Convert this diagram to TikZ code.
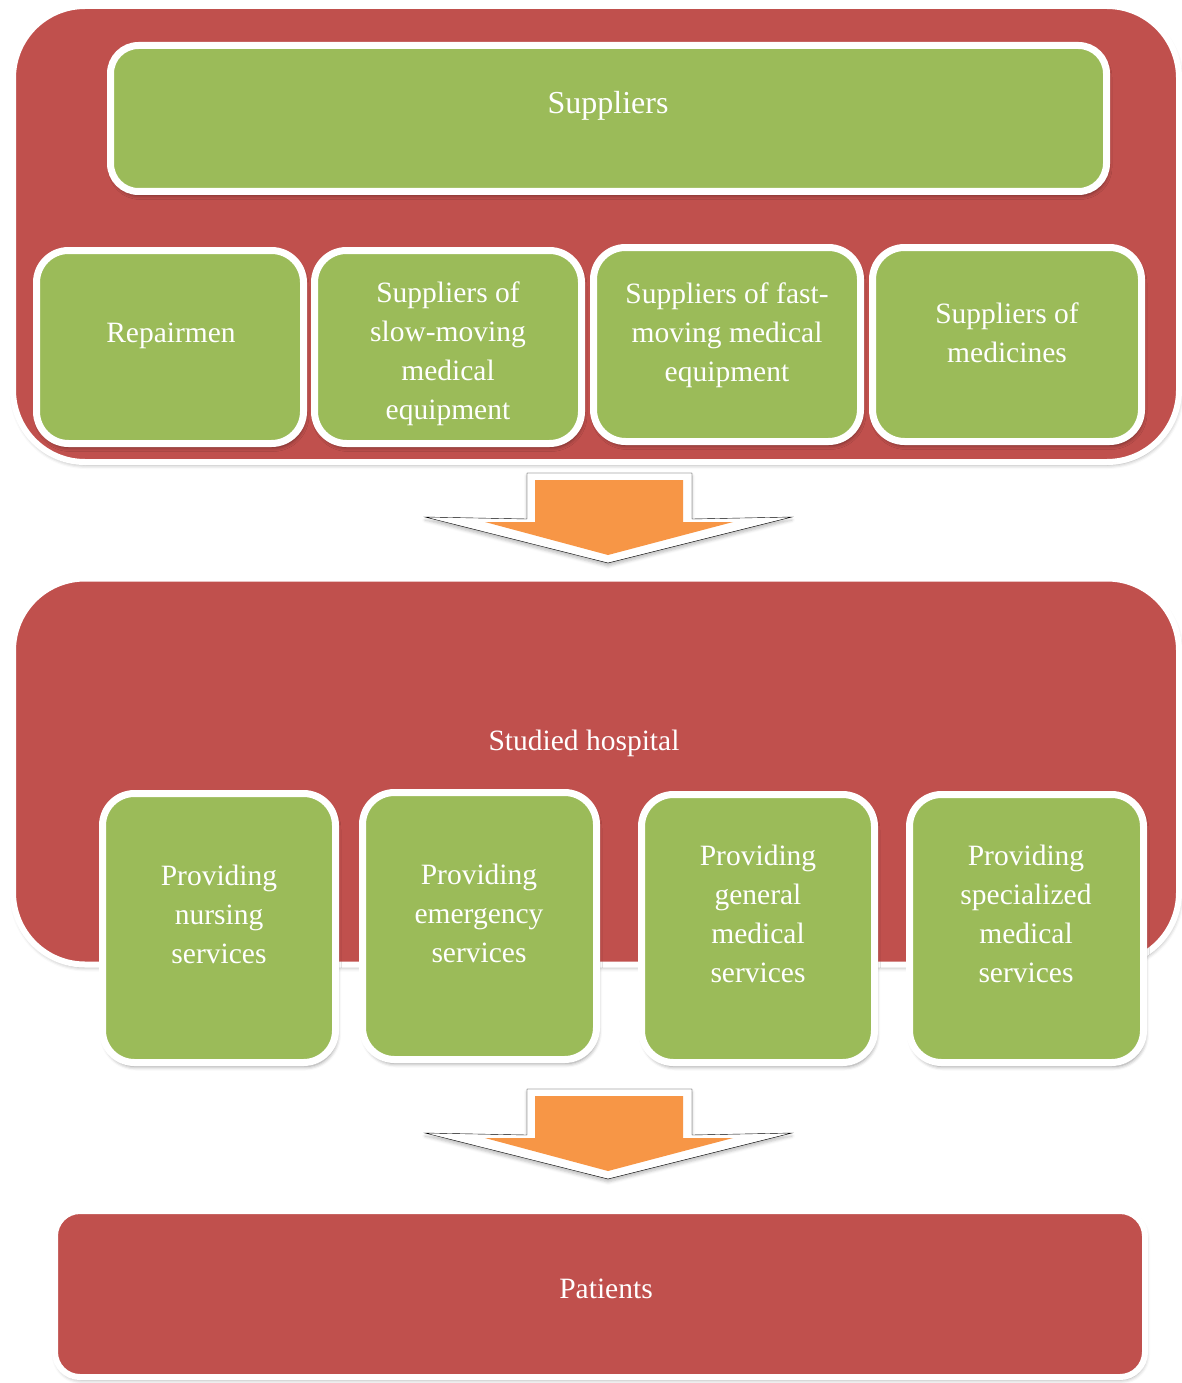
\documentclass[tikz,border=0pt]{standalone}
\usepackage{fontspec}
\setmainfont{Liberation Serif}
\usepackage{xcolor}
\usepackage{tikz}
\usetikzlibrary{positioning, shadows.blur}
\definecolor{hospred}{HTML}{C0504D}
\definecolor{leafgreen}{HTML}{9BBB59}
\definecolor{floworange}{HTML}{F79646}

\tikzset{
  redpanel/.style={draw=white, line width=6pt, fill=hospred,
    inner sep=0pt, outer sep=0pt,
    blur shadow={shadow xshift=1pt, shadow yshift=-3pt,
      shadow blur radius=4pt, shadow opacity=35}},
  greenbox/.style={draw=white, line width=7pt, fill=leafgreen,
    rounded corners=32pt, inner sep=0pt, outer sep=0pt,
    blur shadow={shadow xshift=1.5pt, shadow yshift=-4pt,
      shadow blur radius=4pt, shadow opacity=45}},
  boxtext/.style={text=white, align=center, inner sep=0pt,
    font=\fontsize{29.5}{39}\selectfont},
  arrowrim/.style={fill=white,
    blur shadow={shadow xshift=0pt, shadow yshift=-3pt,
      shadow blur radius=3pt, shadow opacity=25}},
  arrowbody/.style={fill=floworange}
}

\begin{document}
\begin{tikzpicture}[x=1pt, y=-1pt]
        \useasboundingbox (0,0) rectangle (1182,1383);
        % Top panel: suppliers
        \node[redpanel, rounded corners=72pt,
          minimum width=1166pt, minimum height=456pt]
          (supp-panel) at (596, 234) {};
        \node[greenbox, rounded corners=28pt,
          minimum width=996pt, minimum height=146pt]
          (supp) at (608.5, 118.5) {};
        \node[greenbox, minimum width=267pt, minimum height=193pt]
          (rep) at (170, 347) {};
        \node[greenbox, minimum width=267pt, minimum height=193pt]
          (slow) at (448, 347) {};
        \node[greenbox, minimum width=267pt, minimum height=194pt]
          (fast) at (727, 344.5) {};
        \node[greenbox, minimum width=269pt, minimum height=194pt]
          (med) at (1007, 344.5) {};
        % Block arrows
        \draw[arrowrim] (527,473) -- (692,473) -- (692,519)
          -- (792,517) -- (608,563) -- (425,517) -- (527,519) -- cycle;
        \fill[arrowbody] (535,480) -- (683,480) -- (683,522)
          -- (733,522) -- (608,555) -- (485,522) -- (535,522) -- cycle;
        \begin{scope}[shift={(0,616)}]
          \draw[arrowrim] (527,473) -- (692,473) -- (692,519)
            -- (792,517) -- (608,563) -- (425,517) -- (527,519) -- cycle;
          \fill[arrowbody] (535,480) -- (683,480) -- (683,522)
            -- (733,522) -- (608,555) -- (485,522) -- (535,522) -- cycle;
        \end{scope}
        % Middle panel: hospital
        \node[redpanel, rounded corners=72pt,
          minimum width=1166pt, minimum height=386pt]
          (hosp) at (596, 771.5) {};
        \node[greenbox, minimum width=233pt, minimum height=269pt]
          (nurse) at (219, 928) {};
        \node[greenbox, minimum width=234pt, minimum height=267pt]
          (emerg) at (479.5, 926) {};
        \node[greenbox, minimum width=233pt, minimum height=268pt]
          (gen) at (758, 928.5) {};
        \node[greenbox, minimum width=234pt, minimum height=268pt]
          (spec) at (1026.5, 928.5) {};
        % Bottom panel
        \node[redpanel, rounded corners=25pt,
          minimum width=1090pt, minimum height=166pt]
          (pat) at (600, 1294) {};
        % Labels
        \node[boxtext, font=\fontsize{32}{39}\selectfont]
          (supp-t) at (608, 106) {Suppliers};
        \node[boxtext] (rep-t) at (171, 336) {Repairmen};
        \node[boxtext] (slow-t) at (448, 354)
          {Suppliers of\\slow-moving\\medical\\equipment};
        \node[boxtext] (fast-t) at (727, 335)
          {Suppliers of fast-\\moving medical\\equipment};
        \node[boxtext] (med-t) at (1007, 333)
          {Suppliers of\\medicines};
        \node[boxtext] (hosp-t) at (584, 743) {Studied hospital};
        \node[boxtext] (nurse-t) at (219, 914)
          {Providing\\nursing\\services};
        \node[boxtext] (emerg-t) at (479, 913)
          {Providing\\emergency\\services};
        \node[boxtext] (gen-t) at (758, 914)
          {Providing\\general\\medical\\services};
        \node[boxtext] (spec-t) at (1026, 914)
          {Providing\\specialized\\medical\\services};
        \node[boxtext] (pat-t) at (606, 1289) {Patients};
      \end{tikzpicture}
\end{document}
